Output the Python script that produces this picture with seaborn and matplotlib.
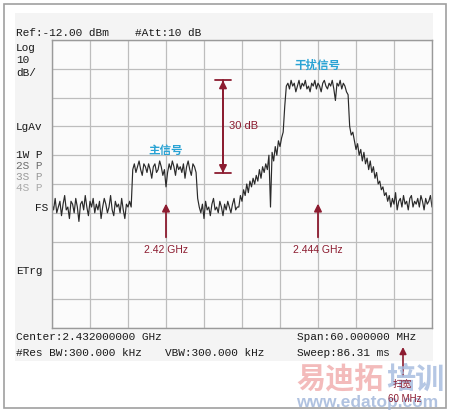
import numpy as np
import pandas as pd
import matplotlib
matplotlib.use("Agg")
import matplotlib.pyplot as plt
from matplotlib.patches import Rectangle
import seaborn as sns

# ---------------- data ----------------
start_ghz = 2.402
stop_ghz = 2.462
step_ghz = 0.00025
ref_dbm = -12.0
db_per_div = 10.0

noise_left = [-69, -71, -67, -72, -70, -68, -73, -69, -66, -71,
              -70, -74, -68, -69, -72, -67, -70, -75, -69, -68,
              -71, -66, -70, -73, -68, -70, -67, -72, -69, -71,
              -68, -74, -70, -67, -69, -72, -70, -66, -71, -73,
              -68, -70, -69, -72, -67, -71, -74, -69, -70, -68,
              -70]
main_signal = [-57, -55, -58, -56, -54, -57, -59, -55, -56, -58,
               -55, -57, -60, -56, -55, -58, -57, -54, -56, -59,
               -57, -63, -58, -55, -57, -54, -56, -59, -55, -57,
               -56, -58, -55, -60, -56, -54, -57, -59, -55, -56,
               -58]
noise_mid = [-67, -70, -72, -69, -74, -68, -71, -70, -73, -69,
             -67, -71, -70, -72, -68, -70, -73, -69, -71, -68,
             -70, -72, -69, -67, -71, -70]
skirt_left = [-70, -66, -68, -64, -66, -62, -65, -61, -63, -60,
              -62, -59, -61, -57, -60, -56, -58, -55, -57, -52,
              -70, -51, -54, -49, -52, -47, -49, -46, -44, -35, -28]
interferer = [-27, -29, -26, -28, -27, -30, -28, -26, -29, -27,
              -28, -26, -29, -28, -30, -27, -28, -26, -29, -27,
              -28, -30, -27, -26, -28, -29, -27, -28, -26, -29,
              -33, -27, -28, -26, -29, -27, -28, -30]
skirt_right = [-31, -42, -45, -44, -47, -50, -48, -52, -50, -54,
               -51, -55, -53, -57, -54, -58, -56, -60, -58, -62,
               -61, -64, -63, -66, -65]
noise_right = [-68, -66, -70, -67, -69, -65, -71, -68, -67, -70,
               -66, -69, -68, -71, -67, -66, -70, -68, -69, -67,
               -70, -66, -68, -71, -67, -69, -68, -66, -70]

level = noise_left + main_signal + noise_mid + skirt_left + interferer + skirt_right + noise_right
freq = start_ghz + step_ghz * np.arange(len(level))
df = pd.DataFrame({"freq": freq, "level": level})

main_freq = 2.420
interf_freq = 2.444
main_label = "主信号"
interf_label = "干扰信号"

# ---------------- figure ----------------
sns.set_style("white")
plt.rcParams["font.family"] = ["Liberation Mono", "DejaVu Sans Mono"]

W, H = 450, 413
fig = plt.figure(figsize=(W / 100, H / 100), dpi=100)
fig.patch.set_facecolor("white")

def fx(px):
    return px / W

def fy(py):
    return 1 - py / H

# outer frame and screen panel (behind everything)
fig.add_artist(Rectangle((fx(4), fy(408)), fx(442), 404 / H, transform=fig.transFigure,
                         facecolor="white", edgecolor="#a0a0a0", lw=1.2, zorder=-20))
fig.add_artist(Rectangle((fx(15), fy(361)), fx(418), 348 / H, transform=fig.transFigure,
                         facecolor="#f4f4f4", edgecolor="none", zorder=-19))

ax = fig.add_axes([fx(52), fy(328), fx(380), 288 / H])
ax.set_facecolor("#fbfbfb")

sns.lineplot(data=df, x="freq", y="level", ax=ax, color="#2a2a2a", linewidth=0.85)

ax.set_xlim(start_ghz, stop_ghz)
ax.set_ylim(ref_dbm - 10 * db_per_div, ref_dbm)
ax.set_xticks(np.linspace(start_ghz, stop_ghz, 11))
ax.set_yticks(np.linspace(ref_dbm - 10 * db_per_div, ref_dbm, 11))
ax.grid(True, color="#bdbdbd", linewidth=0.9)
ax.set_axisbelow(True)
ax.tick_params(length=0, labelbottom=False, labelleft=False)
ax.set_xlabel("")
ax.set_ylabel("")
for s in ax.spines.values():
    s.set_color("#9a9a9a")
    s.set_linewidth(1.0)

red = "#8c1c30"
blue = "#2aa3d4"
cjk = ["Noto Sans CJK SC", "DejaVu Sans"]
sans = ["Liberation Sans", "DejaVu Sans"]

# 30 dB double arrow
x_dbl = 2.4290
ax.annotate("", xy=(x_dbl, -26), xytext=(x_dbl, -58.2),
            arrowprops=dict(arrowstyle="<|-|>", color=red, lw=1.3, mutation_scale=11,
                            shrinkA=0, shrinkB=0))
ax.annotate("", xy=(x_dbl, -25.9), xytext=(x_dbl, -58.2),
            arrowprops=dict(arrowstyle="|-|,widthA=0.55,widthB=0.55", color=red, lw=1.3,
                            mutation_scale=11, shrinkA=0, shrinkB=0))
ax.text(2.4300, -42, "30 dB", color=red, fontsize=8, family=sans, va="center", ha="left")

# frequency arrows
for fq, lab in [(main_freq, "2.42 GHz"), (interf_freq, "2.444 GHz")]:
    ax.annotate("", xy=(fq, -68.8), xytext=(fq, -80.5),
                arrowprops=dict(arrowstyle="-|>", color=red, lw=1.3, mutation_scale=11,
                                shrinkA=0, shrinkB=0))
    ax.text(fq, -85, lab, color=red, fontsize=7.5, family=sans, ha="center", va="center")

ax.text(main_freq, -50.3, main_label, color=blue, fontsize=8.3, family=cjk,
        ha="center", va="center", fontweight="bold")
ax.text(interf_freq - 0.0001, -20.7, interf_label, color=blue, fontsize=8.3, family=cjk,
        ha="center", va="center", fontweight="bold")

# analyzer annotations
def t(px, py, s, color="#1a1a1a", ha="left", size=8):
    fig.text(fx(px), fy(py), s, color=color, ha=ha, va="center", fontsize=size)

t(16, 33, "Ref:-12.00 dBm")
t(135, 33, "#Att:10 dB")
t(16, 48, "Log")
t(16, 60, "10")
t(16, 73, "dB/")
t(16, 127, "LgAv")
t(16, 155, "1W P")
t(16, 166, "2S P", color="#6e6e6e")
t(16, 177, "3S P", color="#9a9a9a")
t(16, 188, "4S P", color="#ababab")
t(48, 208, "FS", ha="right")
t(16, 271, "ETrg")
t(16, 337, "Center:2.432000000 GHz")
t(16, 353, "#Res BW:300.000 kHz")
t(165, 353, "VBW:300.000 kHz")
t(297, 337, "Span:60.000000 MHz")
t(297, 353, "Sweep:86.31 ms")

# watermark
fig.text(fx(296), fy(379), "易迪拓", color="#f2b0b0", fontsize=21, family=cjk,
         fontweight="bold", ha="left", va="center", alpha=0.85)
fig.text(fx(386), fy(379), "培训", color="#a8bde0", fontsize=21, family=cjk,
         fontweight="bold", ha="left", va="center", alpha=0.85)
fig.text(fx(296), fy(402), "www.edatop.com", color="#a3b8db", fontsize=12.5, family=sans,
         fontweight="bold", ha="left", va="center", alpha=0.85)

# span arrow
ax.annotate("", xy=(fx(403), fy(347)), xytext=(fx(403), fy(376)),
            xycoords="figure fraction", textcoords="figure fraction",
            annotation_clip=False,
            arrowprops=dict(arrowstyle="-|>", color=red, lw=1.2, mutation_scale=10,
                            shrinkA=0, shrinkB=0))
fig.text(fx(402), fy(384), "扫宽", color=red, fontsize=7, family=cjk, ha="center", va="center")
fig.text(fx(405), fy(399), "60 MHz", color=red, fontsize=7, family=sans, ha="center", va="center")

fig.savefig("out.png", dpi=100)
